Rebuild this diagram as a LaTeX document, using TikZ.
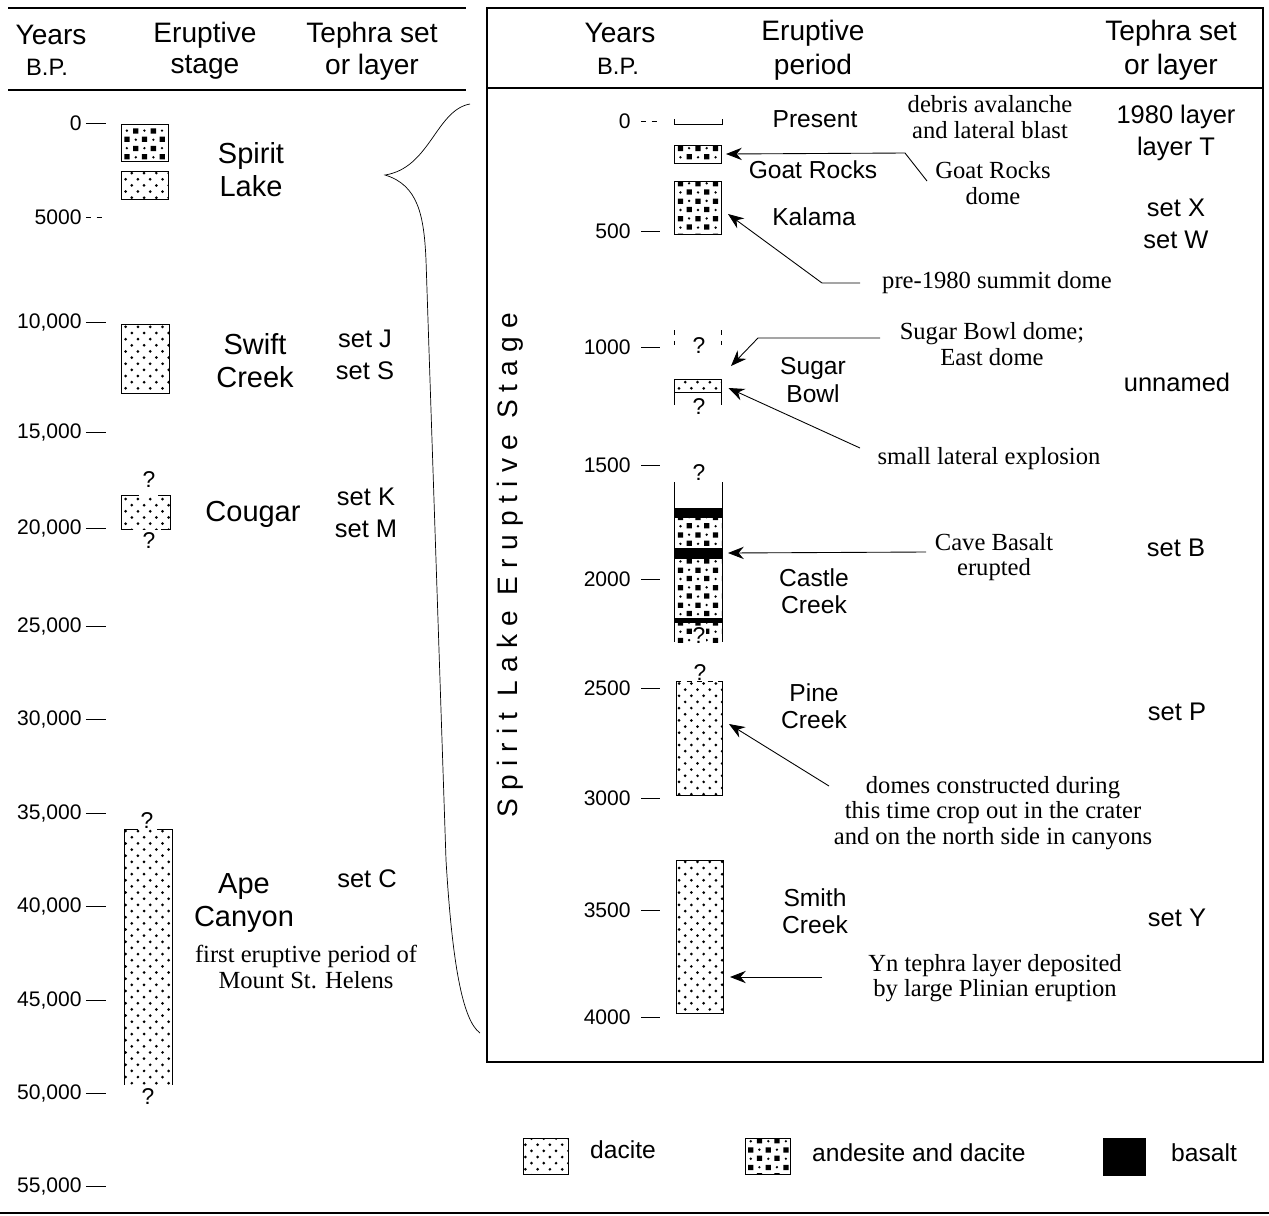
\documentclass[tikz,border=0pt]{standalone}
\usepackage{fontspec}
\setmainfont{Liberation Sans}
\newfontfamily\notefont{Liberation Serif}
\newfontfamily\spacedfont[LetterSpace=29]{Liberation Sans}
\usetikzlibrary{patterns,arrows.meta,fit}

\pgfdeclarepatternformonly{dacite}{\pgfqpoint{-1pt}{-1pt}}{\pgfqpoint{8pt}{8pt}}{\pgfqpoint{7pt}{7pt}}{%
  \pgfpathcircle{\pgfqpoint{1.5pt}{1.5pt}}{0.85pt}%
  \pgfpathcircle{\pgfqpoint{5pt}{5pt}}{0.85pt}%
  \pgfusepath{fill}}
\pgfdeclarepatternformonly{andesite}{\pgfqpoint{-1pt}{-1pt}}{\pgfqpoint{11pt}{11pt}}{\pgfqpoint{10pt}{10pt}}{%
  \pgfpathrectangle{\pgfqpoint{0.8pt}{0.8pt}}{\pgfqpoint{3pt}{3pt}}%
  \pgfpathrectangle{\pgfqpoint{5.8pt}{5.5pt}}{\pgfqpoint{3pt}{3pt}}%
  \pgfpathcircle{\pgfqpoint{7.3pt}{2pt}}{0.75pt}%
  \pgfpathcircle{\pgfqpoint{2.2pt}{7.2pt}}{0.75pt}%
  \pgfusepath{fill}}

\begin{document}
\begin{tikzpicture}[x=0.02cm,y=-0.02cm,
    hdr/.style={font=\fontsize{16}{18}\selectfont},
    bp/.style={font=\fontsize{13.5}{16}\selectfont},
    tick/.style={font=\fontsize{12}{14}\selectfont,anchor=east,inner sep=0pt},
    stage/.style={font=\fontsize{16.5}{18.8}\selectfont,align=center},
    period/.style={font=\fontsize{14}{15.6}\selectfont,align=center},
    tephra/.style={font=\fontsize{14.5}{18}\selectfont,align=center},
    note/.style={font=\notefont\fontsize{14}{14.4}\selectfont,align=center},
    qmark/.style={font=\fontsize{13}{15}\selectfont,inner sep=0pt},
    box/.style={draw,line width=0.5pt,inner sep=0pt,outer sep=0pt},
    dacbox/.style={box,pattern=dacite},
    andbox/.style={box,pattern=andesite},
    arr/.style={-{Stealth[length=9pt,width=7pt,inset=3pt]},line width=0.5pt}]

  \useasboundingbox (0,0) rectangle (1269,1215);

  % left column
  \draw[line width=1pt] (8,8) -- (466,8);
  \draw[line width=1pt] (8,90) -- (466,90);
  \node[hdr] (yl) at (51,35) {Years};
  \node[bp] (bpl) at (47,67) {B.P.};
  \node[hdr] (esl) at (205,35) {Eruptive};
  \node[hdr] (stl) at (205,67) {stage};
  \node[hdr] (tsl) at (372,35) {Tephra set};
  \node[hdr] (oll) at (372,67) {or layer};

  \foreach \lab/\yy/\dd [count=\i] in {0/123/solid,5000/217/dashed,{10,000}/322/solid,
      {15,000}/432/solid,{20,000}/528/solid,{25,000}/626/solid,{30,000}/719/solid,
      {35,000}/813/solid,{40,000}/906/solid,{45,000}/1000/solid,{50,000}/1093/solid,
      {55,000}/1186/solid} {
    \node[tick] (lt\i) at (82,\yy) {\lab};
    \draw[\dd] ([xshift=0.08cm]lt\i.east) -- ++(20,0);
  }

  \node[andbox,fit={(121,124) (168,161)}] (slake1) {};
  \node[dacbox,fit={(121,171) (168,199)}] (slake2) {};
  \node[stage] (spirit) at (251,170) {Spirit\\Lake};

  \node[dacbox,fit={(121,324) (169,393)}] (swift) {};
  \node[stage] (swiftname) at (255,361) {Swift\\Creek};
  \node[tephra] (setjs) at (365,355) {set J\\set S};

  \path[pattern=dacite] (121,495) rectangle (170,529);
  \draw (139,495) -- (121,495) -- (121,529) -- (133,529);
  \draw (158,495) -- (170,495) -- (170,529) -- (161,529);
  \node[qmark] (cq1) at (149,480) {?};
  \node[qmark] (cq2) at (149,541) {?};
  \node[stage] (cougar) at (253,514) {Cougar};
  \node[tephra] (setkm) at (366,513) {set K\\set M};

  \path[pattern=dacite] (124,829) rectangle (172,1085);
  \draw (138,829) -- (124,829) -- (124,1085);
  \draw (157,829) -- (172,829) -- (172,1085);
  \node[qmark] (aq1) at (147,821) {?};
  \node[qmark] (aq2) at (148,1097) {?};
  \node[stage] (ape) at (244,903) {Ape\\Canyon};
  \node[tephra] (setc) at (367,879) {set C};
  \node[note] (first) at (306,967) {first eruptive period of\\Mount St. Helens};

  \draw (470,104) .. controls (436,110) and (430,168) .. (385,175)
    .. controls (418,185) and (424,215) .. (426,260)
    -- (446,860) .. controls (452,960) and (462,1020) .. (480,1033);

  % right column
  \draw[line width=1pt] (487,8) rectangle (1263,1062);
  \draw[line width=1pt] (487,88) -- (1263,88);
  \node[hdr] (yr) at (620,33) {Years};
  \node[bp] (bpr) at (618,66) {B.P.};
  \node[hdr] (epr) at (813,33) {Eruptive};
  \node[hdr] (per) at (813,67) {period};
  \node[hdr] (tsr) at (1171,33) {Tephra set};
  \node[hdr] (olr) at (1171,67) {or layer};
  \node[font=\spacedfont\fontsize{16}{18}\selectfont,rotate=90] (sles) at (510,565) {Spirit Lake Eruptive Stage};

  \foreach \lab/\yy/\dd [count=\i] in {0/121/dashed,500/231/solid,1000/347/solid,1500/465/solid,
      2000/579/solid,2500/688/solid,3000/798/solid,3500/910/solid,4000/1017/solid} {
    \node[tick] (rt\i) at (631,\yy) {\lab};
    \draw[\dd] ([xshift=0.2cm]rt\i.east) -- ++(19,0);
  }

  \draw (674,119) -- (674,124) -- (722,124) -- (722,119);
  \node[period] (present) at (815,119) {Present};
  \node[andbox,fit={(674,145) (721,163)}] (goat) {};
  \node[period] (goatname) at (813,170) {Goat Rocks};
  \node[andbox,fit={(674,181) (721,234)}] (kalama) {};
  \node[period] (kalamaname) at (814,217) {Kalama};

  \draw[dashed] (674,330) -- (674,345);
  \draw[dashed] (721,330) -- (721,345);
  \node[qmark] (sq1) at (699,346) {?};
  \node[dacbox,fit={(674,379) (721,392)}] (sugar) {};
  \draw (674,392) -- (674,405);
  \draw (721,392) -- (721,405);
  \node[qmark] (sq2) at (699,407) {?};
  \node[period] (sugarname) at (813,380) {Sugar\\Bowl};

  \node[qmark] (ccq1) at (699,473) {?};
  \path[pattern=andesite] (674,517) rectangle (722,642);
  \draw (674,482) -- (674,642);
  \draw (722,482) -- (722,642);
  \node[box,fill=black,fit={(674,508) (722,517)}] (castle1) {};
  \node[box,fill=black,fit={(674,548) (722,558)}] (cave) {};
  \node[box,fill=black,fit={(674,618) (722,622)}] (castle3) {};
  \node[qmark,fill=white,inner sep=0.5pt] (ccq2) at (699,636) {?};
  \node[period] (castlename) at (814,591) {Castle\\Creek};

  \node[qmark] (pq) at (700,673) {?};
  \path[pattern=dacite] (676,681) rectangle (722,795);
  \draw[dashed] (676,681) -- (722,681);
  \draw (676,681) -- (676,795) -- (722,795) -- (722,681);
  \node[period] (pinename) at (814,706) {Pine\\Creek};

  \node[dacbox,fit={(676,860) (723,1013)}] (smith) {};
  \node[period] (smithname) at (815,911) {Smith\\Creek};

  \node[note] (debris) at (990,117) {debris avalanche\\and lateral blast};
  \node[note] (goatnote) at (993,183) {Goat Rocks\\dome};
  \node[note] (prenote) at (997,283) {pre-1980 summit dome};
  \node[note] (sbnote) at (992,344) {Sugar Bowl dome;\\East dome};
  \node[note] (smallnote) at (989,459) {small lateral explosion};
  \node[note] (cavenote) at (994,557) {Cave Basalt\\erupted};
  \node[note] (domenote) at (993,813) {domes constructed during\\this time crop out in the crater\\and on the north side in canyons};
  \node[note] (ynnote) at (995,978) {Yn tephra layer deposited\\by large Plinian eruption};

  \node[tephra] (layert) at (1176,133) {1980 layer\\layer T};
  \node[tephra] (setxw) at (1176,224) {set X\\set W};
  \node[tephra] (unnamed) at (1177,382) {unnamed};
  \node[tephra] (setb) at (1176,548) {set B};
  \node[tephra] (setp) at (1177,712) {set P};
  \node[tephra] (sety) at (1177,918) {set Y};

  \coordinate (goatfoot) at (927,181);
  \coordinate (goatbend) at (905,153);
  \coordinate (kalfoot) at (860,283);
  \coordinate (kalbend) at (822,283);
  \coordinate (kaltip) at (728,214);
  \coordinate (sbfoot) at (880,338);
  \coordinate (sbbend) at (758,338);
  \coordinate (sbtip) at (731,366);
  \coordinate (smallfoot) at (860,448);
  \coordinate (cavefoot) at (926,552);
  \coordinate (pinefoot) at (829,786);
  \coordinate (pinetip) at (729,724);
  \coordinate (smithfoot) at (822,977);
  \coordinate (smithtip) at (730,977);
  \draw[arr] (goatfoot) -- (goatbend) -- ([xshift=0.1cm]goat.east);
  \draw[arr] (kalfoot) -- (kalbend) -- (kaltip);
  \draw[arr] (sbfoot) -- (sbbend) -- (sbtip);
  \draw[arr] (smallfoot) -- ([xshift=0.15cm,yshift=-0.05cm]sugar.east);
  \draw[arr] (cavefoot) -- ([xshift=0.12cm]cave.east);
  \draw[arr] (pinefoot) -- (pinetip);
  \draw[arr] (smithfoot) -- (smithtip);

  % legend
  \node[dacbox,fit={(523,1138) (568,1174)}] (legdac) {};
  \node[font=\fontsize{14}{16}\selectfont,anchor=west] (legdactext) at (584,1150) {dacite};
  \node[andbox,fit={(745,1138) (790,1174)}] (legand) {};
  \node[font=\fontsize{14}{16}\selectfont,anchor=west] (legandtext) at (806,1153) {andesite and dacite};
  \node[box,fill=black,fit={(1103,1138) (1145,1175)}] (legbas) {};
  \node[font=\fontsize{14}{16}\selectfont,anchor=west] (legbastext) at (1165,1153) {basalt};

  \draw[line width=1pt] (0,1213) -- (1269,1213);
\end{tikzpicture}
\end{document}
